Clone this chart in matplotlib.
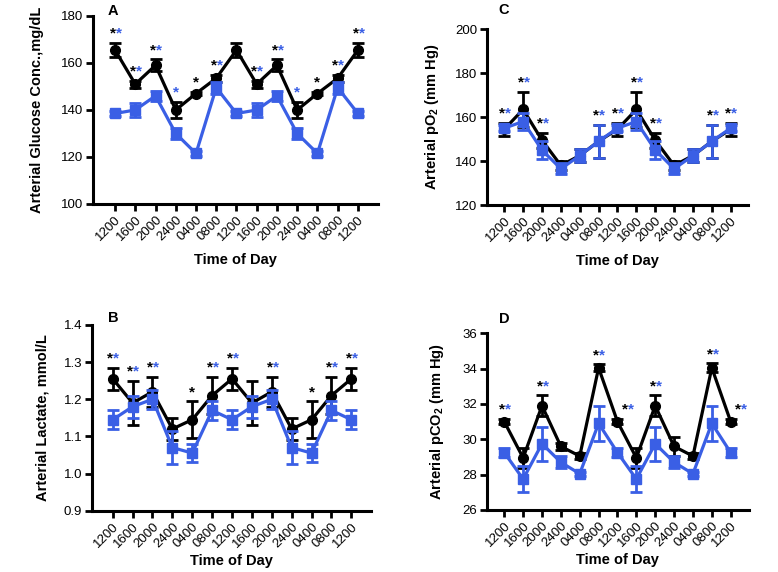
import numpy as np
import matplotlib
matplotlib.use("Agg")
import matplotlib.pyplot as plt

plt.rcParams['font.family'] = ['Liberation Sans', 'DejaVu Sans']
plt.rcParams['mathtext.fontset'] = 'custom'
plt.rcParams['mathtext.rm'] = 'Liberation Sans:bold'
plt.rcParams['mathtext.default'] = 'rm'

BLUE = '#3a5fe5'

times = ['1200', '1600', '2000', '2400', '0400', '0800', '1200',
         '1600', '2000', '2400', '0400', '0800', '1200']

# A - glucose
glucose_black = [165.5, 151, 159, 140, 147, 153.5, 165.5, 151, 159, 140, 147, 153.5, 165.5]
glucose_black_err = [3, 1.5, 2.5, 3.5, 0.8, 1.5, 3, 1.5, 2.5, 3.5, 0.8, 1.5, 3]
glucose_blue = [138.5, 140, 146, 130, 121.5, 149.5, 138.5, 140, 146, 130, 121.5, 149.5, 138.5]
glucose_blue_err = [1, 3, 2, 2.5, 1, 2.5, 1, 3, 2, 2.5, 1, 2.5, 1]
glucose_star_black = [1, 1, 1, 0, 1, 1, 0, 1, 1, 0, 1, 1, 1]
glucose_star_blue = [1, 1, 1, 1, 0, 1, 0, 1, 1, 1, 0, 1, 1]

# B - lactate
lactate_black = [1.255, 1.19, 1.22, 1.12, 1.145, 1.21, 1.255, 1.19, 1.22, 1.12, 1.145, 1.21, 1.255]
lactate_black_err = [0.03, 0.06, 0.04, 0.03, 0.05, 0.05, 0.03, 0.06, 0.04, 0.03, 0.05, 0.05, 0.03]
lactate_blue = [1.145, 1.18, 1.2, 1.07, 1.055, 1.17, 1.145, 1.18, 1.2, 1.07, 1.055, 1.17, 1.145]
lactate_blue_err = [0.025, 0.03, 0.025, 0.045, 0.025, 0.025, 0.025, 0.03, 0.025, 0.045, 0.025, 0.025, 0.025]
lactate_star_black = [1, 1, 1, 0, 1, 1, 1, 0, 1, 0, 1, 1, 1]
lactate_star_blue = [1, 1, 1, 0, 0, 1, 1, 0, 1, 0, 0, 1, 1]

# C - pO2
po2_black = [154.5, 163.5, 149.5, 138, 142.5, 149, 154.5, 163.5, 149.5, 138, 142.5, 149, 154.5]
po2_black_err = [3, 8, 3.5, 2, 3, 7.5, 3, 8, 3.5, 2, 3, 7.5, 3]
po2_blue = [155, 158, 145, 136.5, 142.5, 149, 155, 158, 145, 136.5, 142.5, 149, 155]
po2_blue_err = [1.5, 4, 4, 2.5, 3, 7.5, 1.5, 4, 4, 2.5, 3, 7.5, 1.5]
po2_star = [1, 1, 1, 0, 0, 1, 1, 1, 1, 0, 0, 1, 1]

# D - pCO2
pco2_black = [31.0, 28.95, 31.9, 29.6, 29.05, 34.05, 31.0, 28.95, 31.9, 29.6, 29.05, 34.05, 31.0]
pco2_black_err = [0.15, 0.55, 0.6, 0.2, 0.15, 0.2, 0.15, 0.55, 0.6, 0.55, 0.15, 0.25, 0.15]
pco2_blue = [29.25, 27.75, 29.75, 28.7, 28.05, 30.9, 29.25, 27.75, 29.75, 28.7, 28.05, 30.9, 29.25]
pco2_blue_err = [0.25, 0.75, 0.95, 0.35, 0.1, 1.0, 0.25, 0.75, 0.95, 0.35, 0.1, 1.0, 0.25]
pco2_star = [1, 0, 1, 0, 0, 1, 1, 0, 1, 0, 0, 1, 1]


def panel(rect, xlim, ylim, yticks, yfmt, ylabel, ylpad, xlpad, letter, letter_xy,
          black, black_err, blue, blue_err, star_black, star_blue, shifted=()):
    ax = fig.add_axes(rect)
    x = np.arange(len(times))
    ax.errorbar(x, black, yerr=black_err, fmt='-o', color='black', lw=2.3, ms=7,
                elinewidth=2, capsize=4.5, capthick=2, zorder=3)
    ax.errorbar(x, blue, yerr=blue_err, fmt='-s', color=BLUE, lw=2.3, ms=7,
                elinewidth=2, capsize=4.5, capthick=2, zorder=4)
    for i in x:
        top = max(black[i] + black_err[i], blue[i] + blue_err[i])
        dx = 7 if i in shifted else 0
        kw = dict(textcoords='offset points', va='bottom', fontsize=11,
                  fontweight='bold', zorder=6)
        if star_black[i] and star_blue[i]:
            ax.annotate('*', (i, top), xytext=(dx + 0.5, 1.5), ha='right', color='black', **kw)
            ax.annotate('*', (i, top), xytext=(dx + 0.5, 1.5), ha='left', color=BLUE, **kw)
        elif star_black[i]:
            ax.annotate('*', (i, top), xytext=(dx, 1.5), ha='center', color='black', **kw)
        elif star_blue[i]:
            ax.annotate('*', (i, top), xytext=(dx, 1.5), ha='center', color=BLUE, **kw)
    ax.set_xlim(*xlim)
    ax.set_ylim(*ylim)
    ax.set_yticks(yticks)
    ax.set_yticklabels([yfmt.format(v) for v in yticks], fontsize=9.5)
    ax.set_xticks(x)
    ax.set_xticklabels(times, rotation=45, ha='right', rotation_mode='anchor', fontsize=9.5)
    for s in ['top', 'right']:
        ax.spines[s].set_visible(False)
    for s in ['left', 'bottom']:
        ax.spines[s].set_linewidth(2.2)
    ax.tick_params(axis='both', width=2, length=5, pad=2)
    ax.set_xlabel('Time of Day', fontsize=10.5, fontweight='bold', labelpad=xlpad)
    ax.set_ylabel(ylabel, fontsize=10.5, fontweight='bold', labelpad=ylpad)
    fig.text(letter_xy[0], letter_xy[1], letter, fontsize=10.5, fontweight='bold',
             ha='center', va='center')
    return ax


fig = plt.figure(figsize=(7.78, 5.72), dpi=100)

panel([0.1195, 0.6434, 0.3663, 0.3287], (-1.09, 12.99), (100, 180), [100, 120, 140, 160, 180],
      '{:.0f}', 'Arterial Glucose Conc.,mg/dL', 12, 7, 'A', (113 / 778, 1 - 11 / 572),
      glucose_black, glucose_black_err, glucose_blue, glucose_blue_err,
      glucose_star_black, glucose_star_blue)

panel([0.1183, 0.1072, 0.3586, 0.3247], (-1.04, 12.99), (0.9, 1.4), [0.9, 1.0, 1.1, 1.2, 1.3, 1.4],
      '{:.1f}', 'Arterial Lactate, mmol/L', 10, 3, 'B', (113 / 778, 1 - 318 / 572),
      lactate_black, lactate_black_err, lactate_blue, lactate_blue_err,
      lactate_star_black, lactate_star_blue)

panel([0.6256, 0.6416, 0.3362, 0.3072], (-0.93, 12.93), (120, 200), [120, 140, 160, 180, 200],
      '{:.0f}', r'Arterial pO$_2$ (mm Hg)', 10, 7, 'C', (504 / 778, 1 - 10 / 572),
      po2_black, po2_black_err, po2_blue, po2_blue_err, po2_star, po2_star)

panel([0.6256, 0.1084, 0.3371, 0.3089], (-0.93, 12.97), (26, 36), [26, 28, 30, 32, 34, 36],
      '{:.0f}', r'Arterial pCO$_2$ (mm Hg)', 12, 3, 'D', (504 / 778, 1 - 319 / 572),
      pco2_black, pco2_black_err, pco2_blue, pco2_blue_err, pco2_star, pco2_star,
      shifted=(6, 12))

fig.savefig('out.png', dpi=100)
